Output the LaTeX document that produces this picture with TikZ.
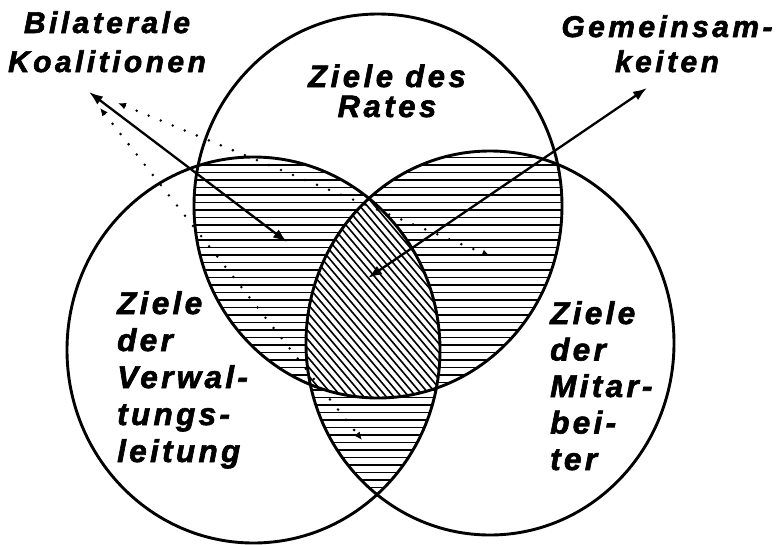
\documentclass[tikz,border=0pt]{standalone}
\usepackage{fontspec}
\newfontface\lbl{Liberation Sans Bold Italic}[LetterSpace=10.5, FakeBold=2]
\newfontface\lbltop{Liberation Sans Bold Italic}[LetterSpace=11.5, FakeBold=2]
\usetikzlibrary{arrows.meta}
\begin{document}
\begin{tikzpicture}[x=1pt,y=-1pt,
  circ/.style={line width=2.9pt},
  hline/.style={line width=1.8pt},
  dline/.style={line width=1.6pt},
  arr/.style={line width=2.3pt,{Latex[length=14pt,width=10pt]}-{Latex[length=14pt,width=10pt]}},
  dotarr/.style={line width=2.8pt, line cap=round, dash pattern=on 0pt off 13pt,
     {Latex[length=8pt,width=7pt]}-{Latex[length=8pt,width=7pt]}},
  lab/.style={font=\lbl\fontsize{31.5}{37}\selectfont, inner sep=0pt}
]
\useasboundingbox (0,0) rectangle (782,544);
% pairwise regions: horizontal hatching
\begin{scope}
  \clip (378,206) ellipse [x radius=184pt, y radius=192pt];
  \clip (253.5,350) ellipse [x radius=186.5pt, y radius=193pt];
  \foreach \y in {150,157.5,...,560} \draw[hline] (0,\y) -- (782,\y);
\end{scope}
\begin{scope}
  \clip (378,206) ellipse [x radius=184pt, y radius=192pt];
  \clip (490,343) ellipse [x radius=184pt, y radius=192pt];
  \foreach \y in {150,157.5,...,560} \draw[hline] (0,\y) -- (782,\y);
\end{scope}
\begin{scope}
  \clip (253.5,350) ellipse [x radius=186.5pt, y radius=193pt];
  \clip (490,343) ellipse [x radius=184pt, y radius=192pt];
  \foreach \y in {150,157.5,...,560} \draw[hline] (0,\y) -- (782,\y);
\end{scope}
% triple region: diagonal hatching
\begin{scope}
  \clip (378,206) ellipse [x radius=184pt, y radius=192pt];
  \clip (253.5,350) ellipse [x radius=186.5pt, y radius=193pt];
  \clip (490,343) ellipse [x radius=184pt, y radius=192pt];
  \fill[white] (0,0) rectangle (782,544);
  \foreach \x in {-100,-92.5,...,500} \draw[dline] (\x,150) -- ({\x+220},410);
\end{scope}
% circles
\draw[circ] (378,206) ellipse [x radius=184pt, y radius=192pt];
\draw[circ] (253.5,350) ellipse [x radius=186.5pt, y radius=193pt];
\draw[circ] (490,343) ellipse [x radius=184pt, y radius=192pt];
% labels (anchor base = baseline of last line)
\node[lab, align=center, anchor=base, font=\lbltop\fontsize{30}{39}\selectfont] (bk) at (107,72) {Bilaterale\\Koalitionen};
\node[lab, align=center, anchor=base, font=\lbltop\fontsize{30}{35}\selectfont] (gm) at (667,72) {Gemeinsam-\\keiten};
\node[lab, align=center, anchor=base, font=\lbltop\fontsize{31}{30}\selectfont] (zr) at (387,117) {Ziele des\\Rates};
\node[lab, align=left, anchor=base west] (zv) at (117,462) {Ziele\\der\\Verwal-\\tungs-\\leitung};
\node[lab, align=left, anchor=base west, font=\lbl\fontsize{31.5}{36.5}\selectfont] (zm) at (550,470) {Ziele\\der\\Mitar-\\bei-\\ter};
% arrow endpoints
\coordinate (a1s) at (89,92);
\coordinate (a1e) at (287,242);
\coordinate (a2s) at (647,88);
\coordinate (a2e) at (368,278);
\coordinate (d1s) at (118,103);
\coordinate (d1e) at (490,256);
\coordinate (d2s) at (100,108);
\coordinate (d2e) at (362,440);
\draw[dotarr] (d1s) -- (d1e);
\draw[dotarr] (d2s) -- (d2e);
\draw[arr] (a1s) -- (a1e);
\draw[arr] (a2s) -- (a2e);
\end{tikzpicture}
\end{document}
